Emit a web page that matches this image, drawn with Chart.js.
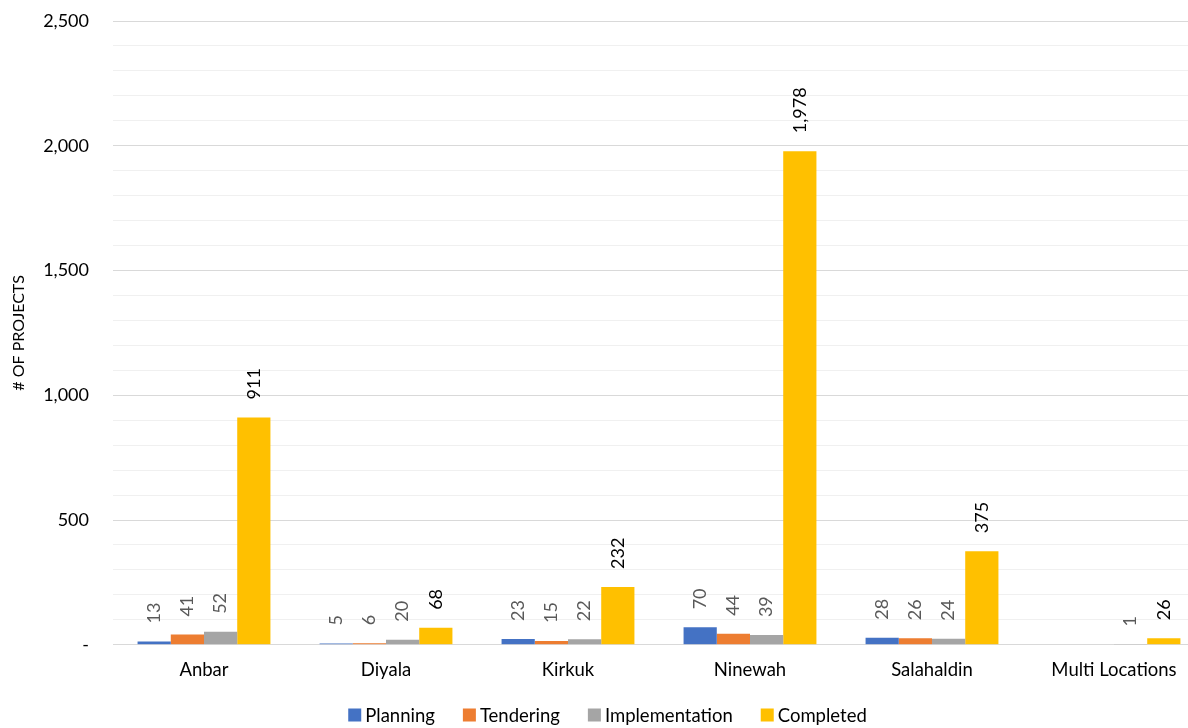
<!DOCTYPE html>
<html>
<head>
<meta charset="utf-8">
<script src="https://cdn.jsdelivr.net/npm/chart.js@4"></script>
<style>
html,body{margin:0;padding:0;background:#fff;overflow:hidden;}
#wrap{width:1188px;height:728px;overflow:hidden;}
</style>
</head>
<body>
<div id="wrap"><canvas id="c" width="1205" height="728"></canvas></div>
<script>
const categories = ["Anbar", "Diyala", "Kirkuk", "Ninewah", "Salahaldin", "Multi Locations"];
const planning = [13, 5, 23, 70, 28, null];
const tendering = [41, 6, 15, 44, 26, null];
const implementation = [52, 20, 22, 39, 24, 1];
const completed = [911, 68, 232, 1978, 375, 26];
const seriesNames = ["Planning", "Tendering", "Implementation", "Completed"];
const seriesColors = ["#4472C4", "#ED7D31", "#A5A5A5", "#FFC000"];
const yMax = 2500;

const FONT = "Lato, 'Open Sans', sans-serif";

const labelPlugin = {
  id: 'vlabels',
  afterDatasetsDraw(chart) {
    const ctx = chart.ctx;
    chart.data.datasets.forEach((ds, di) => {
      const meta = chart.getDatasetMeta(di);
      meta.data.forEach((bar, i) => {
        const v = ds.data[i];
        if (v === null || v === undefined) return;
        ctx.save();
        ctx.translate(bar.x, bar.y - 18);
        ctx.rotate(-Math.PI / 2);
        ctx.font = "18px " + FONT;
        ctx.fillStyle = di === 3 ? '#000000' : '#595959';
        ctx.textAlign = 'left';
        ctx.textBaseline = 'middle';
        ctx.fillText(v.toLocaleString('en-US'), 0, 0);
        ctx.restore();
      });
    });
  }
};

const legendPlugin = {
  id: 'customLegend',
  afterDraw(chart) {
    const ctx = chart.ctx;
    ctx.save();
    ctx.font = "18.5px " + FONT;
    ctx.textBaseline = 'middle';
    ctx.textAlign = 'left';
    const box = 13, gapText = 4, gapItem = 28;
    const ds = chart.data.datasets;
    let total = 0;
    const widths = ds.map(d => ctx.measureText(d.label).width);
    widths.forEach((w, i) => { total += box + gapText + w + (i < ds.length - 1 ? gapItem : 0); });
    let x = 607.5 - total / 2;
    const y = 715;
    ds.forEach((d, i) => {
      ctx.fillStyle = d.backgroundColor;
      ctx.fillRect(x, y - box / 2, box, box);
      ctx.fillStyle = '#000';
      ctx.fillText(d.label, x + box + gapText, y + 1);
      x += box + gapText + widths[i] + gapItem;
    });
    ctx.restore();
  }
};

new Chart(document.getElementById('c'), {
  type: 'bar',
  data: {
    labels: categories,
    datasets: [
      { label: seriesNames[0], data: planning, backgroundColor: seriesColors[0] },
      { label: seriesNames[1], data: tendering, backgroundColor: seriesColors[1] },
      { label: seriesNames[2], data: implementation, backgroundColor: seriesColors[2] },
      { label: seriesNames[3], data: completed, backgroundColor: seriesColors[3] }
    ]
  },
  options: {
    responsive: false,
    animation: false,
    devicePixelRatio: 1,
    layout: { padding: { top: 21, right: 0, left: 0, bottom: 33 } },
    datasets: { bar: { barPercentage: 1, categoryPercentage: 0.73 } },
    scales: {
      x: {
        afterFit(scale) { scale.paddingLeft = 0; scale.paddingRight = 0; },
        grid: { display: false, drawTicks: false },
        border: { display: true, color: '#D9D9D9', width: 1 },
        ticks: { color: '#000', font: { family: FONT, size: 18.5 }, padding: 14, maxRotation: 0 }
      },
      y: {
        min: 0, max: yMax,
        afterFit(scale) { scale.width = 113; scale.paddingTop = 0; scale.paddingBottom = 0; },
        border: { display: false },
        grid: {
          drawTicks: false,
          color(c) { return c.tick.value % 500 === 0 ? '#D9D9D9' : '#F0F0F0'; },
          lineWidth: 1
        },
        ticks: {
          stepSize: 100,
          autoSkip: false,
          padding: 24,
          color: '#000',
          font: { family: FONT, size: 18 },
          callback(v) {
            if (v % 500 !== 0) return '';
            return v === 0 ? '-' : v.toLocaleString('en-US');
          }
        },
        title: {
          display: true,
          text: '# OF PROJECTS',
          color: '#000',
          font: { family: FONT, size: 16 },
          padding: { top: 9, bottom: 0 }
        }
      }
    },
    plugins: {
      legend: { display: false },
      tooltip: { enabled: false }
    }
  },
  plugins: [labelPlugin, legendPlugin]
});
</script>
</body>
</html>
